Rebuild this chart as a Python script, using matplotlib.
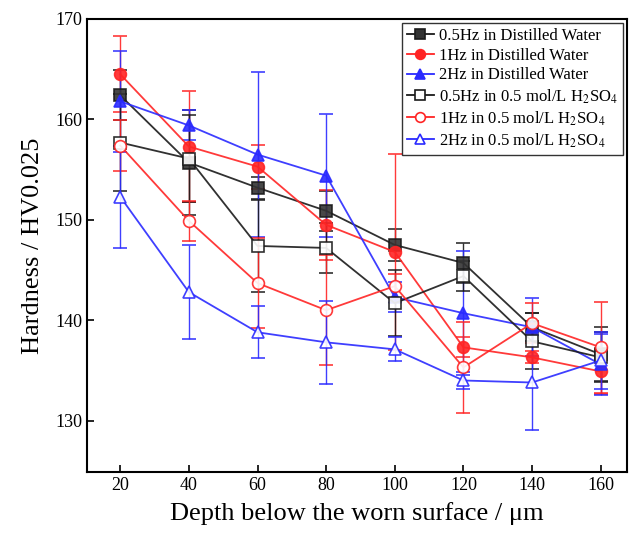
import numpy as np
import matplotlib
matplotlib.use("Agg")
import matplotlib.pyplot as plt
from matplotlib.lines import Line2D

plt.rcParams['font.family'] = ['Liberation Serif', 'DejaVu Serif']
plt.rcParams['mathtext.fontset'] = 'stix'

depth = [20, 40, 60, 80, 100, 120, 140, 160]

# hardness values, HV0.025
dw_05 = [162.4, 155.7, 153.2, 150.9, 147.5, 145.7, 139.3, 136.6]
dw_1 = [164.5, 157.3, 155.3, 149.5, 146.8, 137.3, 136.3, 134.9]
dw_2 = [161.8, 159.4, 156.5, 154.4, 142.3, 140.7, 139.3, 135.6]
ac_05 = [157.7, 156.1, 147.4, 147.2, 141.7, 144.4, 137.9, 136.3]
ac_1 = [157.4, 149.9, 143.7, 141.0, 143.4, 135.3, 139.7, 137.3]
ac_2 = [152.3, 142.8, 138.8, 137.8, 137.1, 134.0, 133.8, 136.0]

# error bars
dw_05_err = [2.5, 5.2, 1.1, 2.0, 1.6, 2.0, 1.4, 2.7]
dw_1_err = [3.8, 5.5, 2.2, 3.5, 9.8, 1.0, 0.6, 2.2]
dw_2_err = [5.0, 1.5, 8.2, 6.1, 1.5, 6.2, 2.9, 3.0]
ac_05_err = [4.8, 4.3, 4.6, 2.5, 3.3, 1.5, 2.8, 2.5]
ac_1_err = [2.5, 2.0, 4.5, 5.5, 1.2, 4.5, 2.0, 4.5]
ac_2_err = [5.1, 4.7, 2.6, 4.1, 1.2, 0.8, 4.7, 2.8]

black = '#1a1a1a'
red = '#ff2424'
blue = '#2a2aff'

series = [
    (dw_05, dw_05_err, black, 's', True, '0.5Hz in Distilled Water'),
    (dw_1, dw_1_err, red, 'o', True, '1Hz in Distilled Water'),
    (dw_2, dw_2_err, blue, '^', True, '2Hz in Distilled Water'),
    (ac_05, ac_05_err, black, 's', False, '0.5Hz in 0.5 mol/L H$_2$SO$_4$'),
    (ac_1, ac_1_err, red, 'o', False, '1Hz in 0.5 mol/L H$_2$SO$_4$'),
    (ac_2, ac_2_err, blue, '^', False, '2Hz in 0.5 mol/L H$_2$SO$_4$'),
]

fig = plt.figure(figsize=(6.37, 5.35), dpi=100)
ax = fig.add_axes([0.137, 0.118, 0.847, 0.8465])

handles = []
for vals, err, c, m, filled, lab in series:
    face = ('#333333' if c == black else c) if filled else 'white'
    ax.errorbar(depth, vals, yerr=err, color=c, marker=m, markersize=8.5,
                markerfacecolor=face, markeredgecolor=c, markeredgewidth=1.2,
                linewidth=1.3, elinewidth=1.0, capsize=5, capthick=1.0,
                alpha=0.9)
    handles.append(Line2D([], [], color=c, marker=m, markersize=7,
                          markerfacecolor=face, markeredgecolor=c,
                          markeredgewidth=1.2, linewidth=1.3, label=lab))

ax.set_xlim(10.4, 167.6)
ax.set_ylim(124.9, 170)
ax.set_xticks(depth)
ax.set_yticks([130, 140, 150, 160, 170])
ax.tick_params(direction='in', length=5, width=1.2, labelsize=13)
for s in ax.spines.values():
    s.set_linewidth(1.5)

ax.set_xlabel('Depth below the worn surface / μm', fontsize=19, labelpad=6)
ax.set_ylabel('Hardness / HV0.025', fontsize=19, labelpad=8)

leg = ax.legend(handles=handles, loc='upper right', fontsize=12, frameon=True,
                fancybox=False, edgecolor='black', borderpad=0.3,
                labelspacing=0.22, handlelength=1.6, handletextpad=0.3,
                borderaxespad=0.25)
leg.get_frame().set_linewidth(1.0)

fig.savefig('out.png', dpi=100)
